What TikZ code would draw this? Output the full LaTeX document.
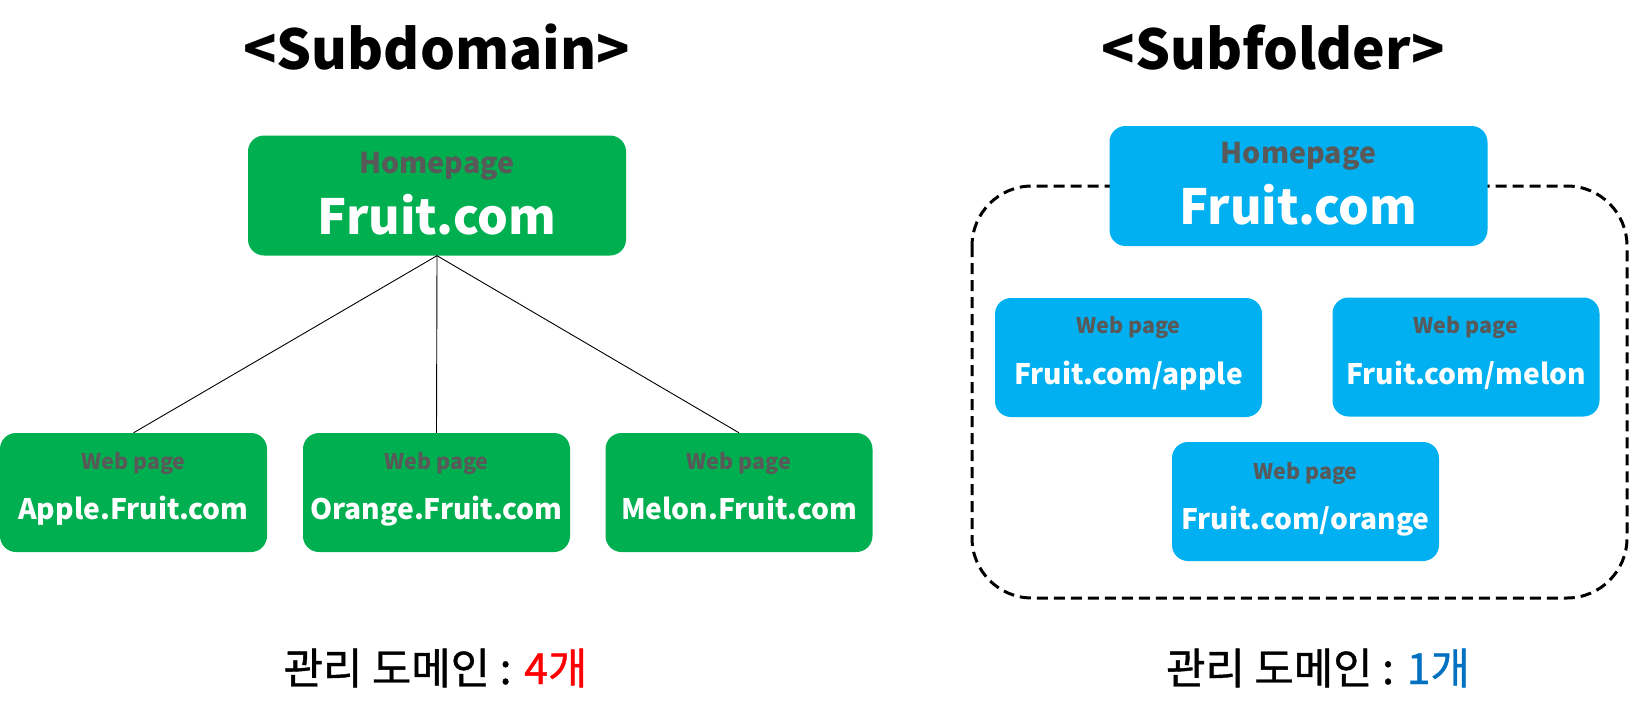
\documentclass[tikz,border=0pt]{standalone}
\usepackage{fontspec}
\setmainfont{Noto Sans CJK KR}
\newfontfamily\korfont{Noto Sans CJK KR}[FakeBold=1]
\definecolor{sgreen}{HTML}{00B050}
\definecolor{sblue}{HTML}{00B0F0}
\definecolor{sgray}{HTML}{595959}
\definecolor{sred}{HTML}{FF0000}
\definecolor{sdblue}{HTML}{0070C0}
\begin{document}
\begin{tikzpicture}[x=1pt,y=-1pt,
  box/.style={rectangle, rounded corners=16pt, inner sep=0pt, minimum width=267pt, minimum height=119pt},
  homebox/.style={box, minimum width=378pt, minimum height=120pt},
  gfill/.style={fill=sgreen},
  bfill/.style={fill=sblue},
  titletxt/.style={anchor=base, inner sep=0pt, font=\fontsize{55}{60}\selectfont\bfseries},
  hometag/.style={anchor=base, inner sep=0pt, text=sgray, font=\fontsize{28.6}{30}\selectfont\bfseries},
  homename/.style={anchor=base, inner sep=0pt, text=white, font=\fontsize{48.5}{52}\selectfont\bfseries},
  webtag/.style={anchor=base, inner sep=0pt, text=sgray, font=\fontsize{21.5}{24}\selectfont\bfseries},
  webname/.style={anchor=base, inner sep=0pt, text=white, font=\fontsize{28.2}{30}\selectfont\bfseries},
  kortxt/.style={anchor=base, inner sep=0pt, font=\fontsize{42.8}{46}\selectfont\korfont},
  link/.style={draw=black, line width=0.9pt},
  group/.style={draw=black, line width=3pt, dash pattern=on 11pt off 6pt, rounded corners=60pt}
]
\useasboundingbox (0,0) rectangle (1632,717);

% ---------- Subdomain ----------
\node[titletxt] (t1) at (436.5,70) {<Subdomain>};

\node[homebox, gfill] (home1) at (437,195.5) {};
\node[hometag] (home1a) at (437,173) {Homepage};
\node[homename] (home1b) at (437,234) {Fruit.com};

\node[box, gfill] (apple1) at (133.5,492.5) {};
\node[webtag] (apple1a) at (133.5,469) {Web page};
\node[webname] (apple1b) at (133.5,519) {Apple.Fruit.com};

\node[box, gfill] (orange1) at (436.5,492.5) {};
\node[webtag] (orange1a) at (436.5,469) {Web page};
\node[webname] (orange1b) at (436.5,519) {Orange.Fruit.com};

\node[box, gfill] (melon1) at (739,492.5) {};
\node[webtag] (melon1a) at (739,469) {Web page};
\node[webname] (melon1b) at (739,519) {Melon.Fruit.com};

\draw[link] (home1.south) -- (apple1.north);
\draw[link] (home1.south) -- (orange1.north);
\draw[link] (home1.south) -- (melon1.north);

\node[kortxt] (k1) at (435.5,684) {관리 도메인 : \textcolor{sred}{4개}};

% ---------- Subfolder ----------
\node[titletxt] (t2) at (1273,70) {<Subfolder>};

\draw[group] (972,186) rectangle (1627,598);

\node[homebox, bfill] (home2) at (1298.5,186) {};
\node[hometag] (home2a) at (1298.5,163) {Homepage};
\node[homename] (home2b) at (1298.5,224) {Fruit.com};

\node[box, bfill] (apple2) at (1128.5,357.5) {};
\node[webtag] (apple2a) at (1128.5,333) {Web page};
\node[webname] (apple2b) at (1128.5,384) {Fruit.com/apple};

\node[box, bfill] (melon2) at (1466,357) {};
\node[webtag] (melon2a) at (1466,333) {Web page};
\node[webname] (melon2b) at (1466,384) {Fruit.com/melon};

\node[box, bfill] (orange2) at (1305.5,501.5) {};
\node[webtag] (orange2a) at (1305.5,479) {Web page};
\node[webname] (orange2b) at (1305.5,529) {Fruit.com/orange};

\node[kortxt] (k2) at (1318,684) {관리 도메인 : \textcolor{sdblue}{1개}};
\end{tikzpicture}
\end{document}
